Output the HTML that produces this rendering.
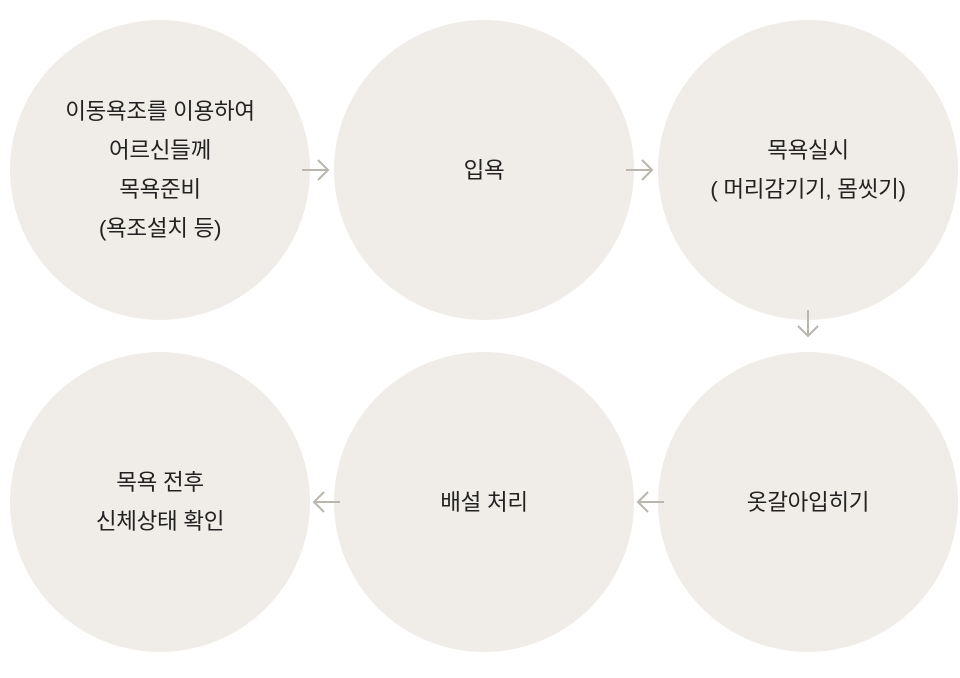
<!DOCTYPE html>
<html><head><meta charset="utf-8"><style>
body{margin:0;width:960px;height:678px;background:#fff;position:relative;overflow:hidden;font-family:"Liberation Sans","Noto Sans CJK KR",sans-serif;}
.c{position:absolute;width:300px;height:300px;border-radius:50%;background:#f0ede8;display:flex;align-items:center;justify-content:center;text-align:center;font-size:22.5px;line-height:39px;color:#222;letter-spacing:-0.3px;}
svg{position:absolute;left:0;top:0}
</style></head><body>
<div class="c" style="left:10px;top:20px">이동욕조를 이용하여<br>어르신들께<br>목욕준비<br>(욕조설치 등)</div>
<div class="c" style="left:334px;top:20px">입욕</div>
<div class="c" style="left:658px;top:20px">목욕실시<br>( 머리감기기, 몸씻기)</div>
<div class="c" style="left:10px;top:352px">목욕 전후<br>신체상태 확인</div>
<div class="c" style="left:334px;top:352px">배설 처리</div>
<div class="c" style="left:658px;top:352px">옷갈아입히기</div>
<svg width="960" height="678" fill="none" stroke="#bab6ac" stroke-width="2">
<path d="M302 170H328M318 160L328 170L318 180"/>
<path d="M626 170H652M642 160L652 170L642 180"/>
<path d="M808 310V336M798 326L808 336L818 326"/>
<path d="M664 502H638M648 492L638 502L648 512"/>
<path d="M340 502H314M324 492L314 502L324 512"/>
</svg>
</body></html>
